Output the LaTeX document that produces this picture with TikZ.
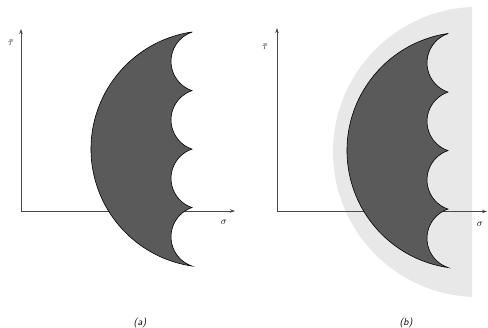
\documentclass[tikz,border=0pt]{standalone}
\usetikzlibrary{arrows.meta}
\definecolor{darkfill}{HTML}{5A5A5A}
\definecolor{lightfill}{HTML}{E8E8E8}
\definecolor{axiscol}{HTML}{4A4A4A}
\begin{document}
\begin{tikzpicture}[x=1pt,y=1pt,
  axisline/.style={draw=axiscol,line width=0.7pt,-{Stealth[length=5pt,width=3.5pt]}},
  envelope/.style={fill=darkfill,draw=black,line width=0.6pt},
  region/.style={fill=lightfill,draw=none},
  lbl/.style={font=\fontsize{10}{11}\selectfont,inner sep=0pt},
  captext/.style={font=\fontsize{10}{12}\selectfont\sffamily\itshape,inner sep=0pt}]
\useasboundingbox (0,0) rectangle (488,328);
% ---------- panel (b) light region ----------
\fill[region] (472,321) arc[start angle=92.4,end angle=267.6,radius=145.1] -- cycle;
% ---------- axes ----------
\coordinate (oa) at (21,117);
\coordinate (ya) at (21,299);
\coordinate (xa) at (235,117);
\coordinate (ob) at (277,116.5);
\coordinate (yb) at (277,300);
\coordinate (xb) at (487,116.5);
\draw[axisline] (oa) -- (ya);
\draw[axisline] (oa) -- (xa);
\draw[axisline] (ob) -- (yb);
\draw[axisline] (ob) -- (xb);
% ---------- envelopes ----------
\foreach \dx/\dy in {0/0,256/-1.5}{
\begin{scope}[shift={(\dx,\dy)}]
\path[envelope] (192,296) arc[start angle=98.4,end angle=261.6,radius=118.3]
  arc[start angle=251.3,end angle=108.7,radius=30.87]
  arc[start angle=251.3,end angle=108.7,radius=30.87]
  arc[start angle=251.3,end angle=108.7,radius=30.87]
  arc[start angle=251.3,end angle=108.7,radius=30.87] -- cycle;
\end{scope}}
% ---------- labels ----------
\node[lbl] (ta) at (11,285) {$\bar{\tau}$};
\node[lbl] (sa) at (224,106) {$\sigma$};
\node[lbl] (tb) at (265,281) {$\bar{\tau}$};
\node[lbl] (sb) at (480,104) {$\sigma$};
\node[captext] (capa) at (140,5) {(a)};
\node[captext] (capb) at (406,5) {(b)};
\end{tikzpicture}
\end{document}
